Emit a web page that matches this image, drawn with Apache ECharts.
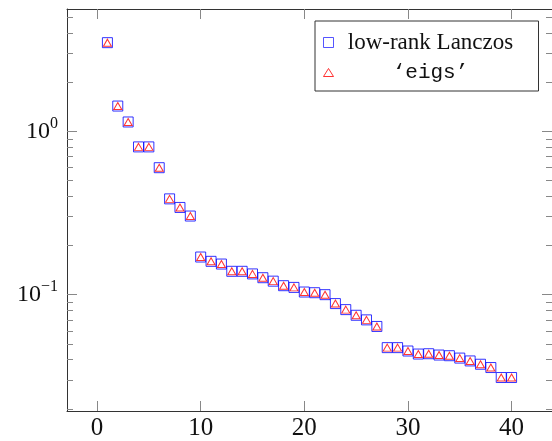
<!DOCTYPE html>
<html>
<head>
<meta charset="utf-8">
<script src="https://cdn.jsdelivr.net/npm/echarts@6/dist/echarts.min.js"></script>
<style>
    html, body { margin: 0; padding: 0; background: #fff; }
    #chart { width: 552px; height: 441px; }
</style>
</head>
<body>
<div id="chart"></div>
<script>
// eigenvalue index
const xs = [1, 2, 3, 4, 5, 6, 7, 8, 9, 10, 11, 12, 13, 14, 15, 16, 17, 18, 19, 20,
    21, 22, 23, 24, 25, 26, 27, 28, 29, 30, 31, 32, 33, 34, 35, 36, 37, 38, 39, 40];
// low-rank Lanczos estimates
const lanczos = [3.49, 1.428, 1.141, 0.803, 0.803, 0.599, 0.386, 0.342, 0.303, 0.170,
    0.160, 0.154, 0.139, 0.139, 0.134, 0.127, 0.121, 0.1135, 0.1108, 0.1038,
    0.1028, 0.100, 0.0882, 0.0810, 0.0748, 0.0701, 0.0639, 0.0474, 0.0474, 0.0452,
    0.0433, 0.0435, 0.0427, 0.0423, 0.0409, 0.0393, 0.0375, 0.0358, 0.0311, 0.0311];
// 'eigs' reference values
const eigsVals = [3.49, 1.428, 1.141, 0.803, 0.803, 0.599, 0.386, 0.342, 0.303, 0.170,
    0.160, 0.154, 0.139, 0.139, 0.134, 0.127, 0.121, 0.1135, 0.1108, 0.1038,
    0.1028, 0.100, 0.0882, 0.0810, 0.0748, 0.0701, 0.0639, 0.0474, 0.0474, 0.0452,
    0.0433, 0.0435, 0.0427, 0.0423, 0.0409, 0.0393, 0.0375, 0.0358, 0.0311, 0.0311];

const xTicks = [0, 10, 20, 30, 40];
const yMajor = [0.1, 1];
const yMinor = [0.02, 0.03, 0.04, 0.05, 0.06, 0.07, 0.08, 0.09,
    0.2, 0.3, 0.4, 0.5, 0.6, 0.7, 0.8, 0.9, 2, 3, 4, 5];
const seriesNames = ['low-rank Lanczos', '\u2018eigs\u2019'];

const X_MIN = -2.9, X_MAX = 43.9;
const Y_MIN = 0.0194, Y_MAX = 5.61;
const serif = '"Liberation Serif", "DejaVu Serif", serif';
const mono = '"Liberation Mono", "DejaVu Sans Mono", monospace';

const chart = echarts.init(document.getElementById('chart'));

function xAxisOf(pos, showLabel) {
    return {
        type: 'value', position: pos, min: X_MIN, max: X_MAX,
        axisLine: { show: true, onZero: false, lineStyle: { color: '#333', width: 1 } },
        axisTick: { show: true, inside: true, length: 10, customValues: xTicks,
            lineStyle: { color: '#888', width: 1 } },
        axisLabel: { show: showLabel, customValues: xTicks, margin: 5,
            fontFamily: serif, fontSize: 25, color: '#111' },
        splitLine: { show: false }
    };
}

function yAxisOf(pos, ticks, len, showLabel, showLine) {
    return {
        type: 'log', logBase: 10, position: pos, min: Y_MIN, max: Y_MAX,
        axisLine: { show: showLine, onZero: false, lineStyle: { color: '#333', width: 1 } },
        axisTick: { show: true, inside: true, length: len, customValues: ticks,
            lineStyle: { color: '#888', width: 1 } },
        axisLabel: {
            show: showLabel, customValues: ticks, margin: 9,
            formatter: function (v) {
                return v >= 0.5 ? '{b|10}{s|0}' : '{b|10}{s|\u22121}';
            },
            rich: {
                b: { fontFamily: serif, fontSize: 24, lineHeight: 24, color: '#111' },
                s: { fontFamily: serif, fontSize: 16, lineHeight: 16, color: '#111',
                    padding: [0, 0, 15, 0] }
            }
        },
        splitLine: { show: false }
    };
}

let option = {
    animation: false,
    backgroundColor: '#fff',
    grid: { left: 67, top: 9, right: -2, bottom: 28 },
    xAxis: [xAxisOf('bottom', true), xAxisOf('top', false)],
    yAxis: [
        yAxisOf('left', yMinor, 6, false, true),
        yAxisOf('left', yMajor, 10, true, false),
        yAxisOf('right', yMinor, 6, false, true),
        yAxisOf('right', yMajor, 10, false, false)
    ],
    legend: {
        orient: 'vertical', left: 315, top: 21,
        padding: [10, 14, 8, 8], itemGap: 8,
        itemWidth: 10, itemHeight: 10,
        backgroundColor: '#fff', borderColor: '#333', borderWidth: 1,
        data: [
            { name: seriesNames[0], icon: 'path://M0,0L10,0L10,10L0,10Z',
                itemStyle: { color: 'rgba(0,0,0,0)', borderColor: '#2b2bff', borderWidth: 1 } },
            { name: seriesNames[1], icon: 'path://M5,0L10,8L0,8Z',
                itemStyle: { color: 'rgba(0,0,0,0)', borderColor: '#ff0000', borderWidth: 1 } }
        ],
        formatter: function (name) {
            return name === seriesNames[0] ? '{a|' + name + '}' : '{m|' + name + '}';
        },
        textStyle: {
            padding: [0, 0, 0, -2],
            rich: {
                a: { fontFamily: serif, fontSize: 23, lineHeight: 22, width: 188,
                    align: 'center', color: '#111' },
                m: { fontFamily: mono, fontSize: 21, lineHeight: 22, width: 188,
                    align: 'center', color: '#111' }
            }
        }
    },
    series: [
        {
            name: seriesNames[0], type: 'scatter', symbol: 'rect', symbolSize: 10,
            itemStyle: { color: 'rgba(0,0,0,0)', borderColor: '#0000ff', borderWidth: 1 },
            data: xs.map((x, i) => [x, lanczos[i]])
        },
        {
            name: seriesNames[1], type: 'scatter', symbol: 'triangle', symbolSize: [8, 7],
            itemStyle: { color: 'rgba(0,0,0,0)', borderColor: '#ff0000', borderWidth: 1 },
            data: xs.map((x, i) => [x, eigsVals[i]])
        }
    ]
};
chart.setOption(option);
</script>
</body>
</html>
